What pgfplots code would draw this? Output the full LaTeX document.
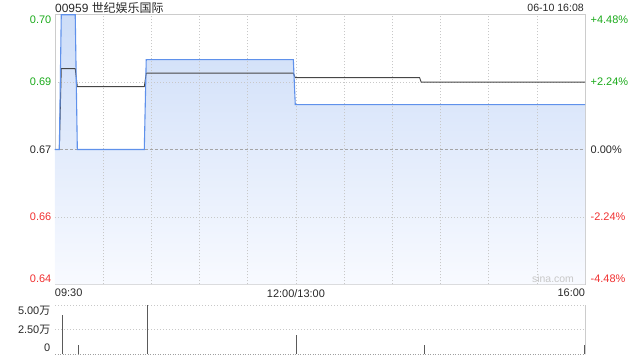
\documentclass[border=0pt]{standalone}
\usepackage{pgfplots}
\pgfplotsset{compat=1.18}
\usepackage{fontspec}
\setmainfont{Liberation Sans}
\newfontfamily\cjk{Noto Sans CJK SC}

\definecolor{upgreen}{RGB}{26,170,26}
\definecolor{downred}{RGB}{240,48,48}
\definecolor{txt}{RGB}{40,40,40}
\definecolor{priceblue}{RGB}{95,145,235}
\definecolor{avgline}{RGB}{70,70,70}
\definecolor{framec}{RGB}{204,204,204}
\definecolor{gridc}{RGB}{200,200,200}
\definecolor{basec}{RGB}{165,165,165}
\definecolor{volbar}{RGB}{90,90,90}
\definecolor{filltop}{RGB}{205,221,248}
\definecolor{fillbot}{RGB}{248,250,255}
\definecolor{wm}{RGB}{200,200,200}

\tikzset{
  dotgrid/.style={gridc, line width=0.6bp, dash pattern=on 1bp off 2bp},
  lab/.style={font=\fontsize{11}{13}\selectfont, text=txt, inner sep=0pt},
}

\begin{document}
\begin{tikzpicture}
\useasboundingbox (0,0) rectangle (640bp,-360bp);

% title and timestamp
\node[anchor=base west, inner sep=0pt, text=txt, font=\fontsize{12}{14}\selectfont]
  at (55bp,-12bp) {00959 {\cjk 世纪娱乐国际}};
\node[anchor=base east, inner sep=0pt, text=txt, font=\fontsize{10.6}{13}\selectfont]
  at (584bp,-11.7bp) {06-10 16:08};

% price panel
\begin{axis}[
  at={(55bp,-284.3bp)}, anchor=south west,
  scale only axis, width=530bp, height=269.6bp,
  xmin=0, xmax=330, ymin=0.64, ymax=0.70,
  clip=false,
  axis line style={framec, line width=0.8bp},
  tick style={draw=none},
  xtick={0,150,330},
  xticklabels={\makebox[0pt][l]{09:30}, 12:00/13:00, \makebox[0pt][r]{16:00}},
  xticklabel style={lab, anchor=north, yshift=-4.7bp},
  ytick={0.64134,0.655,0.67,0.685,0.6988},
  yticklabels={\textcolor{downred}{0.64}, \textcolor{downred}{0.66}, 0.67,
               \textcolor{upgreen}{0.69}, \textcolor{upgreen}{0.70}},
  yticklabel style={lab, anchor=east, xshift=-3.5bp},
]
% shaded area under the price
\addplot[draw=none, top color=filltop, bottom color=fillbot]
  coordinates {(0,0.64) (0,0.67) (2.7,0.67) (3.9,0.70) (12.6,0.70) (13.9,0.67)
               (55.6,0.67) (56.8,0.69) (148.4,0.69) (149.6,0.68) (330,0.68) (330,0.64)};
% dotted grid
\foreach \gx in {30,60,...,300} {
  \edef\temp{\noexpand\addplot[dotgrid] coordinates {(\gx,0.64) (\gx,0.70)};}
  \temp
}
\addplot[dotgrid] coordinates {(0,0.655) (330,0.655)};
\addplot[dotgrid] coordinates {(0,0.685) (330,0.685)};
% previous close
\addplot[basec, line width=0.7bp, dash pattern=on 3bp off 2bp]
  coordinates {(0,0.67) (330,0.67)};
% average price
\addplot[avgline, line width=0.9bp]
  coordinates {(0,0.67) (2.7,0.67) (3.9,0.688) (12.6,0.688) (13.9,0.684) (55.6,0.684)
               (56.8,0.687) (148.4,0.687) (149.6,0.686) (227,0.686) (228,0.685) (330,0.685)};
% last price
\addplot[priceblue, line width=1.1bp]
  coordinates {(0,0.67) (2.7,0.67) (3.9,0.70) (12.6,0.70) (13.9,0.67) (55.6,0.67)
               (56.8,0.69) (148.4,0.69) (149.6,0.68) (330,0.68)};
\end{axis}

% percentage scale on the right
\begin{axis}[
  at={(55bp,-284.3bp)}, anchor=south west,
  scale only axis, width=530bp, height=269.6bp,
  xmin=0, xmax=330, ymin=0.64, ymax=0.70,
  hide x axis,
  axis y line*=right,
  axis line style={draw=none},
  tick style={draw=none},
  yticklabel pos=right,
  ytick={0.64134,0.655,0.67,0.685,0.6988},
  yticklabels={\textcolor{downred}{-4.48\%}, \textcolor{downred}{-2.24\%}, 0.00\%,
               \textcolor{upgreen}{+2.24\%}, \textcolor{upgreen}{+4.48\%}},
  yticklabel style={lab, anchor=west, xshift=5.5bp},
]
\addplot[draw=none] coordinates {(0,0.67) (330,0.67)};
\end{axis}

\node[anchor=base, inner sep=0pt, text=wm, font=\fontsize{10.5}{12}\selectfont]
  at (553bp,-282.5bp) {sina.com};

% volume panel
\begin{axis}[
  at={(55bp,-354.3bp)}, anchor=south west,
  scale only axis, width=530bp, height=49.3bp,
  xmin=0, xmax=330, ymin=0, ymax=5,
  clip=false,
  axis line style={draw=none},
  tick style={draw=none},
  xtick=\empty,
  ytick={0.67,2.49,4.39},
  yticklabels={0, 2.50{\cjk 万}, 5.00{\cjk 万}},
  yticklabel style={lab, anchor=east, xshift=-4.5bp},
]
\addplot[dotgrid] coordinates {(0,5) (330,5)};
\addplot[dotgrid] coordinates {(0,2.5) (330,2.5)};
\addplot[gray!75, line width=0.7bp, dash pattern=on 1bp off 1.5bp]
  coordinates {(0,0) (330,0)};
\addplot[framec, line width=0.8bp] coordinates {(330,0) (330,5)};
\addplot[ycomb, volbar, line width=0.9bp, mark=none]
  coordinates {(4.5,4.0) (14.5,0.92) (57.5,5.0) (150.2,1.94) (230,0.92) (329.6,0.92)};
\end{axis}
\end{tikzpicture}
\end{document}
